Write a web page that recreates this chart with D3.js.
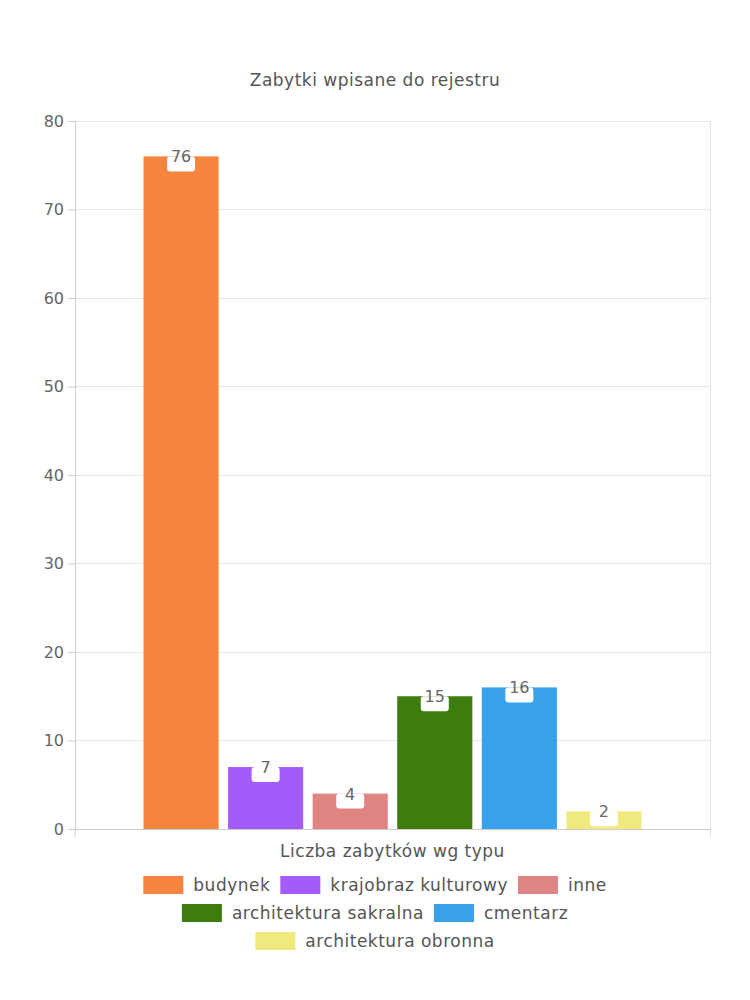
<!DOCTYPE html>
<html><head><meta charset="utf-8">
<script src="https://cdn.jsdelivr.net/npm/d3@7/dist/d3.min.js"></script>
<style>body{margin:0;background:#fff}svg{display:block}</style>
</head><body>
<svg id="c" width="750" height="1000"></svg>
<script>
const title = "Zabytki wpisane do rejestru";
const category = "Liczba zabytków wg typu";
const seriesNames = ["budynek","krajobraz kulturowy","inne","architektura sakralna","cmentarz","architektura obronna"];
const seriesValues = [76, 7, 4, 15, 16, 2];
const seriesColors = ["#f5843f","#a35bfc","#e08383","#3d7d0e","#37a2ea","#f0ea7e"];
const yTicks = [0,10,20,30,40,50,60,70,80];

const FONT = "'DejaVu Sans', sans-serif";
const LS = "0.5px";
const svg = d3.select("#c");
const L = 75, R = 710, T = 121, B = 829;

const y = d3.scaleLinear().domain([0,80]).range([B,T]);
const x0 = d3.scaleBand().domain([category]).range([L,R]).paddingOuter(0.1376).paddingInner(0);
const x1 = d3.scaleBand().domain(seriesNames).range([0,x0.bandwidth()]).paddingInner(0.112).paddingOuter(0);

svg.append("text").attr("x",375).attr("y",86).attr("text-anchor","middle")
  .attr("font-family",FONT).attr("font-size",17).attr("letter-spacing",LS).attr("fill","#555").text(title);

// grid
const g = svg.append("g");
g.selectAll("line.grid").data(yTicks).join("line")
  .attr("x1",L).attr("x2",R).attr("y1",d=>y(d)).attr("y2",d=>y(d))
  .attr("stroke","#e6e6e6").attr("stroke-width",1).attr("shape-rendering","crispEdges");
g.append("line").attr("x1",R).attr("x2",R).attr("y1",T).attr("y2",B+8).attr("stroke","#e6e6e6").attr("shape-rendering","crispEdges");

// y axis
const ya = svg.append("g").attr("transform",`translate(${L},0)`)
  .call(d3.axisLeft(y).tickValues(yTicks).tickSize(7).tickPadding(4));
ya.select(".domain").attr("stroke","#ccc");
ya.selectAll(".tick line").attr("stroke","#ccc");
ya.selectAll("text").attr("font-family",FONT).attr("font-size",16).attr("fill","#666");

// x axis
const xa = svg.append("g").attr("transform",`translate(0,${B})`)
  .call(d3.axisBottom(x0).tickSize(0).tickPadding(16));
xa.select(".domain").attr("stroke","#ccc");
xa.selectAll("text").attr("font-family",FONT).attr("font-size",17).attr("letter-spacing",LS).attr("fill","#555").attr("dy","0.71em");
svg.append("line").attr("x1",L).attr("x2",L).attr("y1",B).attr("y2",B+8).attr("stroke","#ccc");

// bars
const bars = svg.append("g").attr("transform",`translate(${x0(category)},0)`);
const data = seriesNames.map((n,i)=>({n, v:seriesValues[i], c:seriesColors[i]}));
bars.selectAll("rect.bar").data(data).join("rect")
  .attr("x",d=>x1(d.n)).attr("width",x1.bandwidth())
  .attr("y",d=>y(d.v)).attr("height",d=>B-y(d.v)).attr("fill",d=>d.c);
const lab = bars.selectAll("g.lab").data(data).join("g")
  .attr("transform",d=>`translate(${x1(d.n)+x1.bandwidth()/2},${y(d.v)})`);
lab.append("rect").attr("x",-14).attr("y",0).attr("width",28).attr("height",15).attr("rx",3).attr("fill","#fff");
lab.append("text").attr("y",6).attr("text-anchor","middle").attr("font-family",FONT).attr("font-size",16)
  .attr("fill","#666").text(d=>d.v);

// legend
const lg = svg.append("g");
const maxW = 520, sw = 40, sh = 18, gapT = 10, gapI = 10;
const meas = svg.append("text").attr("font-family",FONT).attr("font-size",17).attr("letter-spacing",LS);
const items = data.map(d=>{ meas.text(d.n); return {...d, w: sw+gapT+meas.node().getComputedTextLength()}; });
meas.remove();
const rows = [[]]; let cw = 0;
items.forEach(it=>{
  const add = (rows[rows.length-1].length? gapI:0) + it.w;
  if (cw + add > maxW && rows[rows.length-1].length){ rows.push([it]); cw = it.w; }
  else { rows[rows.length-1].push(it); cw += add; }
});
rows.forEach((row,ri)=>{
  const tw = d3.sum(row,d=>d.w) + gapI*(row.length-1);
  let cx = 375 - tw/2;
  const cy = 885 + ri*28;
  row.forEach(it=>{
    lg.append("rect").attr("x",cx).attr("y",cy-9).attr("width",sw).attr("height",sh).attr("fill",it.c);
    lg.append("text").attr("x",cx+sw+gapT).attr("y",cy).attr("dy","0.35em")
      .attr("font-family",FONT).attr("font-size",17).attr("letter-spacing",LS).attr("fill","#555").text(it.n);
    cx += it.w + gapI;
  });
});
</script>
</body></html>
